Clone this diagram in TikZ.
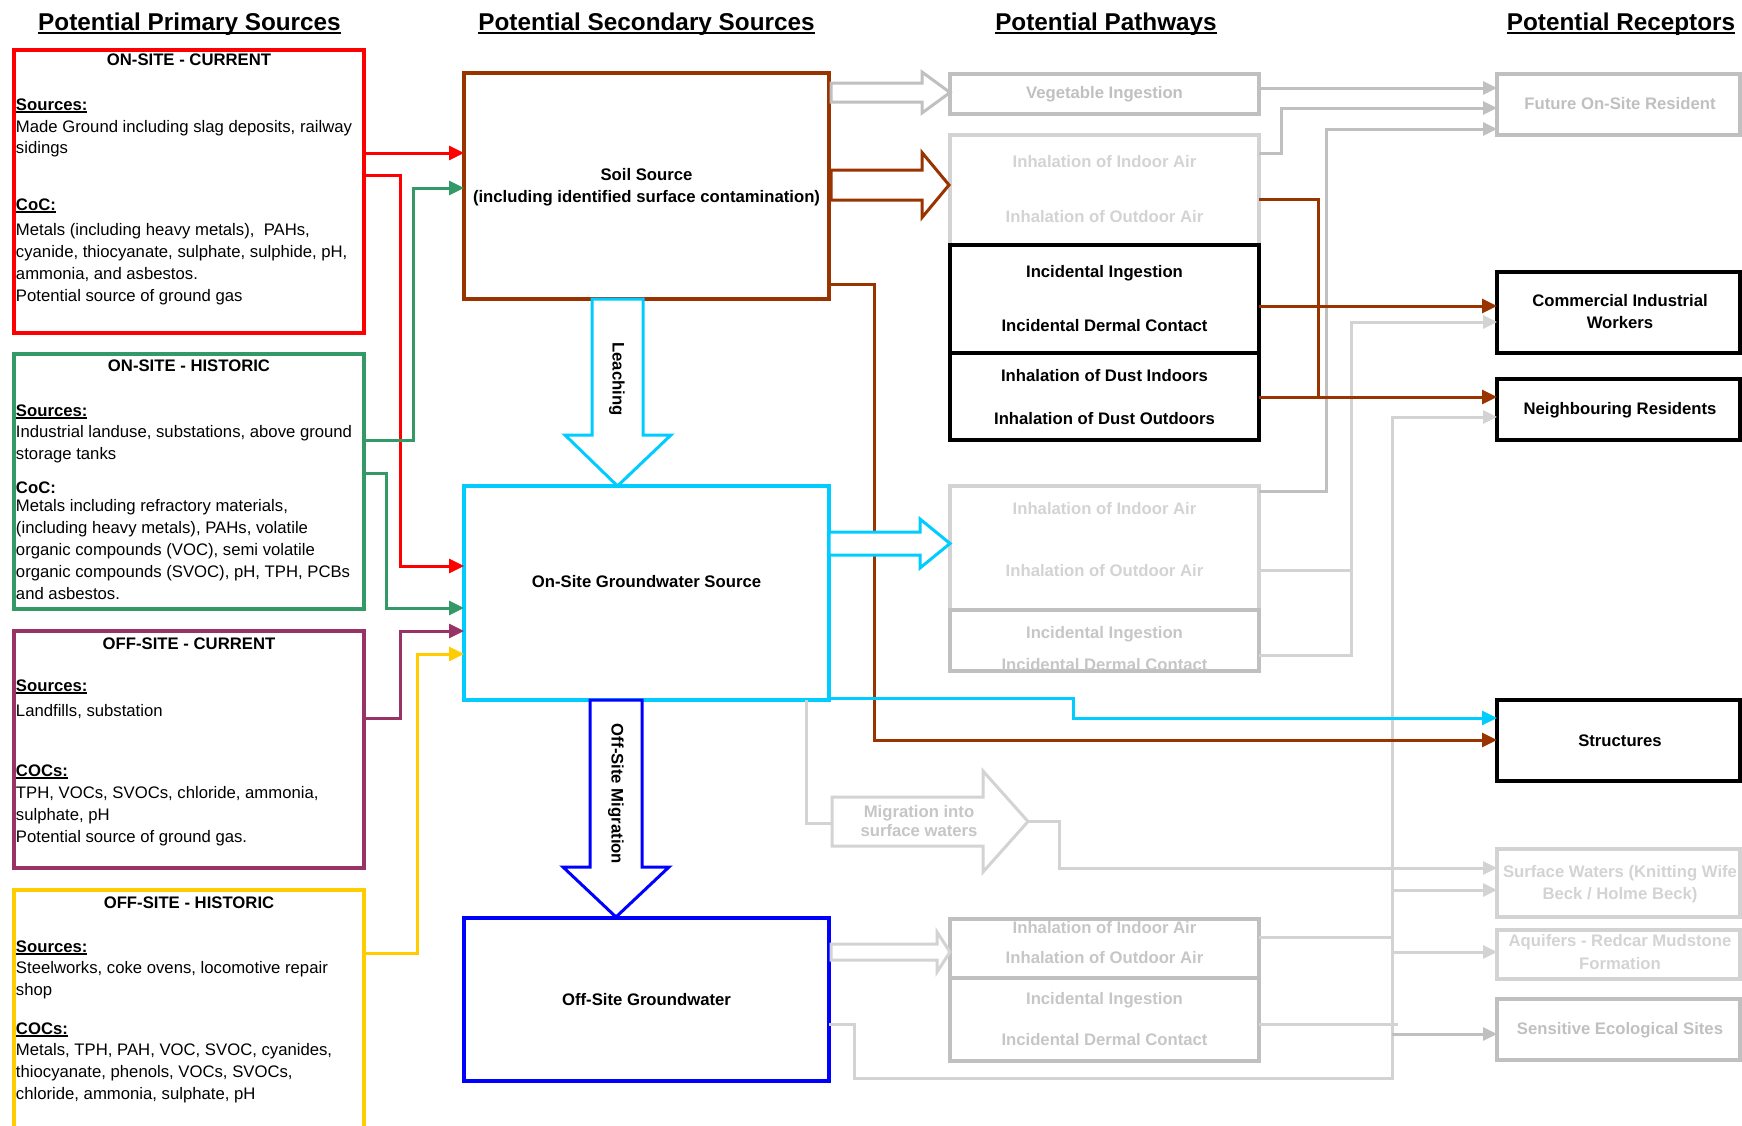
\documentclass[tikz,border=0pt]{standalone}
\usepackage{fontspec}
\setmainfont{Liberation Sans}
\usetikzlibrary{arrows.meta,calc}
\definecolor{cRed}{HTML}{FF0000}
\definecolor{cGreen}{HTML}{339966}
\definecolor{cPurple}{HTML}{993366}
\definecolor{cYellow}{HTML}{FFCC00}
\definecolor{cBrown}{HTML}{993300}
\definecolor{cCyan}{HTML}{00CCFF}
\definecolor{cBlue}{HTML}{0000FF}
\definecolor{gA}{HTML}{C0C0C0}
\definecolor{gB}{HTML}{D3D3D3}
\definecolor{gT}{HTML}{C6C6C6}
\newsavebox\ulbox
\newcommand\myul[1]{\sbox\ulbox{#1}\rlap{\rule[-2.8pt]{\wd\ulbox}{1.4pt}}\usebox\ulbox}
\newcommand\ttlul[1]{\sbox\ulbox{#1}\rlap{\rule[-4pt]{\wd\ulbox}{2pt}}\usebox\ulbox}
\begin{document}
\begin{tikzpicture}[x=1pt,y=-1pt,
  box/.style={draw, line width=4pt, inner sep=0pt, outer sep=0pt},
  pl/.style={inner sep=0pt, outer sep=0pt, anchor=base west, font=\fontsize{16.7}{20}\selectfont},
  bc/.style={inner sep=0pt, outer sep=0pt, anchor=base, font=\fontsize{16.7}{20}\selectfont\bfseries},
  ttl/.style={inner sep=0pt, outer sep=0pt, anchor=base, font=\fontsize{24.3}{28}\selectfont\bfseries},
  link/.style={line width=3pt, -{Triangle[length=15pt,width=14pt]}},
  blink/.style={line width=3pt, draw=cBrown, -{Triangle[length=15pt,width=14pt]}},
  gl/.style={line width=3pt, draw=gA},
  glk/.style={gl, -{Triangle[length=14pt,width=13pt]}},
  gl2/.style={line width=3pt, draw=gB},
  glk2/.style={gl2, -{Triangle[length=14pt,width=13pt]}},
  barrow/.style={line width=3pt, fill=white, line join=miter}
]
\useasboundingbox (0,0) rectangle (1742,1125);

% titles
\node[ttl] (t1) at (189.5,30) {\ttlul{Potential Primary Sources}};
\node[ttl] (t2) at (646.5,30) {\ttlul{Potential Secondary Sources}};
\node[ttl] (t3) at (1106,30) {\ttlul{Potential Pathways}};
\node[ttl] (t4) at (1621,30) {\ttlul{Potential Receptors}};

% primary source boxes
\node[box, draw=cRed, minimum width=350pt, minimum height=283pt] (red) at (189,191.5) {};
\node[box, draw=cGreen, minimum width=350pt, minimum height=255pt] (green) at (189,481.5) {};
\node[box, draw=cPurple, minimum width=350pt, minimum height=237pt] (purple) at (189,749.5) {};
\node[box, draw=cYellow, minimum width=350pt, minimum height=250pt] (yellow) at (189,1015) {};

% secondary source boxes
\node[box, draw=cBrown, minimum width=365pt, minimum height=226pt] (soil) at (646.5,186) {};
\node[box, draw=cCyan, minimum width=365pt, minimum height=214pt] (gw) at (646.5,593) {};
\node[box, draw=cBlue, minimum width=365pt, minimum height=163pt] (ogw) at (646.5,999.5) {};

% pathway boxes
\node[box, draw=gA, minimum width=309pt, minimum height=40pt] (veg) at (1104.5,94) {};
\node[box, draw=gB, minimum width=309pt, minimum height=110pt] (inh1) at (1104.5,190) {};
\node[box, draw=black, minimum width=309pt, minimum height=108pt] (ing1) at (1104.5,299) {};
\node[box, draw=black, minimum width=309pt, minimum height=87pt] (dust1) at (1104.5,396.5) {};
\node[box, draw=gB, minimum width=309pt, minimum height=124pt] (inh2) at (1104.5,548) {};
\node[box, draw=gA, minimum width=309pt, minimum height=61pt] (ing2) at (1104.5,640.5) {};
\node[box, draw=gA, minimum width=309pt, minimum height=59pt] (inh3) at (1104.5,948.5) {};
\node[box, draw=gA, minimum width=309pt, minimum height=83pt] (ing3) at (1104.5,1019.5) {};

% receptor boxes
\node[box, draw=gA, minimum width=243pt, minimum height=61pt] (future) at (1618.5,104.5) {};
\node[box, draw=black, minimum width=243pt, minimum height=81pt] (comm) at (1618.5,312.5) {};
\node[box, draw=black, minimum width=243pt, minimum height=61pt] (neigh) at (1618.5,409.5) {};
\node[box, draw=black, minimum width=243pt, minimum height=81pt] (struct) at (1618.5,740.5) {};
\node[box, draw=gB, minimum width=243pt, minimum height=68pt] (surf) at (1618.5,883) {};
\node[box, draw=gB, minimum width=243pt, minimum height=49pt] (aqui) at (1618.5,954.5) {};
\node[box, draw=gA, minimum width=243pt, minimum height=61pt] (sens) at (1618.5,1029.5) {};

% primary source connectors
\draw[link, cRed] (red.east |- 0,153) -- (soil.west |- 0,153);
\draw[link, cRed] (red.east |- 0,175) -| (400,566) -- (gw.west |- 0,566);
\draw[link, cGreen] (green.east |- 0,440) -| (413,188) -- (soil.west |- 0,188);
\draw[link, cGreen] (green.east |- 0,473) -| (386,608) -- (gw.west |- 0,608);
\draw[link, cPurple] (purple.east |- 0,718) -| (400,631) -- (gw.west |- 0,631);
\draw[link, cYellow] (yellow.east |- 0,953) -| (417,654) -- (gw.west |- 0,654);

% grey connectors to receptors
\draw[glk] (veg.east |- 0,88) -- (future.west |- 0,88);
\draw[glk] (inh1.east |- 0,153) -| (1281,108) -- (future.west |- 0,108);
\draw[glk] (inh2.east |- 0,491) -| (1326,129) -- (future.west |- 0,129);
\draw[gl2] (inh2.east |- 0,570) -- (1351,570);
\draw[glk2] (ing2.east |- 0,655) -| (1351,322) -- (comm.west |- 0,322);
\draw[gl2] (inh3.east |- 0,937) -- (1392,937);
\draw[gl2] (ing3.east |- 0,1024) -- (1398,1024);
\draw[glk2] (ogw.east |- 0,1024) -- (854,1024) -- (854,1078) -| (1392,417) -- (neigh.west |- 0,417);
\coordinate (tr1) at (1392,890);
\coordinate (tr2) at (1392,952);
\coordinate (tr3) at (1392,1034);
\draw[glk2] (tr1) -- (surf.west |- tr1);
\draw[glk2] (tr2) -- (aqui.west |- tr2);
\draw[glk] (tr3) -- (sens.west |- tr3);

% migration into surface waters
\coordinate (migtail) at (832,823);
\coordinate (migtip) at (1028,821.5);
\draw[gl2] (gw.south -| 806,0) -- (806,823) -- (migtail);
\draw[glk2] (migtip) -- (1059,821.5) -- (1059,868) -- (surf.west |- 0,868);

% brown and cyan connectors
\draw[blink] (soil.east |- 0,284) -| (874,740) -- (struct.west |- 0,740);
\draw[link, cCyan] (gw.east |- 0,698) -- (1073,698) -- (1073,718) -- (struct.west |- 0,718);
\draw[line width=3pt, cBrown] (inh1.east |- 0,199) -| (1318,397);
\draw[blink] (ing1.east |- 0,306) -- (comm.west |- 0,306);
\draw[blink] (dust1.east |- 0,397) -- (neigh.west |- 0,397);

% block arrows
\draw[barrow, draw=gA] (831,83) -- (922,83) -- (922,72) -- (950,92.5) -- (922,113) -- (922,102) -- (831,102) -- cycle;
\draw[barrow, draw=cBrown] (831,170) -- (922,170) -- (922,152.5) -- (949,185) -- (922,217.5) -- (922,200) -- (831,200) -- cycle;
\draw[barrow, draw=cCyan] (829,532) -- (920,532) -- (920,519) -- (950,543.5) -- (920,568) -- (920,555) -- (829,555) -- cycle;
\draw[barrow, draw=gB] (831,944) -- (937,944) -- (937,932) -- (950,952) -- (937,972) -- (937,960) -- (831,960) -- cycle;
\draw[barrow, draw=gB] (832,797) -- (983,797) -- (983,771) -- (migtip) -- (983,872) -- (983,846) -- (832,846) -- cycle;
\draw[barrow, draw=cCyan] (592,299) -- (592,435) -- (565,435) -- (617.5,486) -- (671,435) -- (643,435) -- (643,299) -- cycle;
\draw[barrow, draw=cBlue] (590,700) -- (590,867) -- (563,867) -- (616,917) -- (669,867) -- (642,867) -- (642,700) -- cycle;

\node[bc, rotate=-90, anchor=center] (leach) at (617,379) {Leaching};
\node[bc, rotate=-90, anchor=center] (offmig) at (616,794) {Off-Site Migration};
\node[bc, text=gT] (mig1) at (919,817) {Migration into};
\node[bc, text=gT] (mig2) at (919,836) {surface waters};

% primary texts
\node[bc] (rh) at (189,65) {ON-SITE - CURRENT};
\node[pl] (r1) at (16,110) {\textbf{\myul{Sources:}}};
\node[pl] (r2) at (16,132) {Made Ground including slag deposits, railway};
\node[pl] (r3) at (16,153) {sidings};
\node[pl] (r4) at (16,210) {\textbf{\myul{CoC:}}};
\node[pl] (r5) at (16,235) {Metals (including heavy metals),\ \ PAHs,};
\node[pl] (r6) at (16,257) {cyanide, thiocyanate, sulphate, sulphide, pH,};
\node[pl] (r7) at (16,279) {ammonia, and asbestos.};
\node[pl] (r8) at (16,301) {Potential source of ground gas};

\node[bc] (gh) at (189,371) {ON-SITE - HISTORIC};
\node[pl] (g1) at (16,416) {\textbf{\myul{Sources:}}};
\node[pl] (g2) at (16,437) {Industrial landuse, substations, above ground};
\node[pl] (g3) at (16,459) {storage tanks};
\node[pl] (g4) at (16,493) {\textbf{CoC:}};
\node[pl] (g5) at (16,511) {Metals including refractory materials,};
\node[pl] (g6) at (16,533) {(including heavy metals), PAHs, volatile};
\node[pl] (g7) at (16,555) {organic compounds (VOC), semi volatile};
\node[pl] (g8) at (16,577) {organic compounds (SVOC), pH, TPH, PCBs};
\node[pl] (g9) at (16,599) {and asbestos.};

\node[bc] (ph) at (189,649) {OFF-SITE - CURRENT};
\node[pl] (p1) at (16,691) {\textbf{\myul{Sources:}}};
\node[pl] (p2) at (16,716) {Landfills, substation};
\node[pl] (p3) at (16,776) {\textbf{\myul{COCs:}}};
\node[pl] (p4) at (16,798) {TPH, VOCs, SVOCs, chloride, ammonia,};
\node[pl] (p5) at (16,820) {sulphate, pH};
\node[pl] (p6) at (16,842) {Potential source of ground gas.};

\node[bc] (yh) at (189,908) {OFF-SITE - HISTORIC};
\node[pl] (y1) at (16,952) {\textbf{\myul{Sources:}}};
\node[pl] (y2) at (16,973) {Steelworks, coke ovens, locomotive repair};
\node[pl] (y3) at (16,995) {shop};
\node[pl] (y4) at (16,1034) {\textbf{\myul{COCs:}}};
\node[pl] (y5) at (16,1055) {Metals, TPH, PAH, VOC, SVOC, cyanides,};
\node[pl] (y6) at (16,1077) {thiocyanate, phenols, VOCs, SVOCs,};
\node[pl] (y7) at (16,1099) {chloride, ammonia, sulphate, pH};

% secondary texts
\node[bc] (s1) at (646.5,180) {Soil Source};
\node[bc] (s2) at (646.5,202) {(including identified surface contamination)};
\node[bc] (s3) at (646.5,587) {On-Site Groundwater Source};
\node[bc] (s4) at (646.5,1005) {Off-Site Groundwater};

% pathway texts
\node[bc, text=gA] (v1) at (1104.5,98) {Vegetable Ingestion};
\node[bc, text=gB] (a1) at (1104.5,167) {Inhalation of Indoor Air};
\node[bc, text=gB] (a2) at (1104.5,222) {Inhalation of Outdoor Air};
\node[bc] (a3) at (1104.5,277) {Incidental Ingestion};
\node[bc] (a4) at (1104.5,331) {Incidental Dermal Contact};
\node[bc] (a5) at (1104.5,381) {Inhalation of Dust Indoors};
\node[bc] (a6) at (1104.5,424) {Inhalation of Dust Outdoors};
\node[bc, text=gB] (b1) at (1104.5,514) {Inhalation of Indoor Air};
\node[bc, text=gB] (b2) at (1104.5,576) {Inhalation of Outdoor Air};
\node[bc, text=gT] (b3) at (1104.5,638) {Incidental Ingestion};
\node[bc, text=gT] (b4) at (1104.5,670) {Incidental Dermal Contact};
\node[bc, text=gT] (c1) at (1104.5,933) {Inhalation of Indoor Air};
\node[bc, text=gT] (c2) at (1104.5,963) {Inhalation of Outdoor Air};
\node[bc, text=gT] (c3) at (1104.5,1004) {Incidental Ingestion};
\node[bc, text=gT] (c4) at (1104.5,1045) {Incidental Dermal Contact};

% receptor texts
\node[bc, text=gA] (e1) at (1620,109) {Future On-Site Resident};
\node[bc] (e2) at (1620,306) {Commercial Industrial};
\node[bc] (e3) at (1620,328) {Workers};
\node[bc] (e4) at (1620,414) {Neighbouring Residents};
\node[bc] (e5) at (1620,746) {Structures};
\node[bc, text=gB] (e6) at (1620,877) {Surface Waters (Knitting Wife};
\node[bc, text=gB] (e7) at (1620,899.5) {Beck / Holme Beck)};
\node[bc, text=gB] (e8) at (1620,946.5) {Aquifers - Redcar Mudstone};
\node[bc, text=gB] (e9) at (1620,969.5) {Formation};
\node[bc, text=gA] (e10) at (1620,1034) {Sensitive Ecological Sites};
\end{tikzpicture}
\end{document}
